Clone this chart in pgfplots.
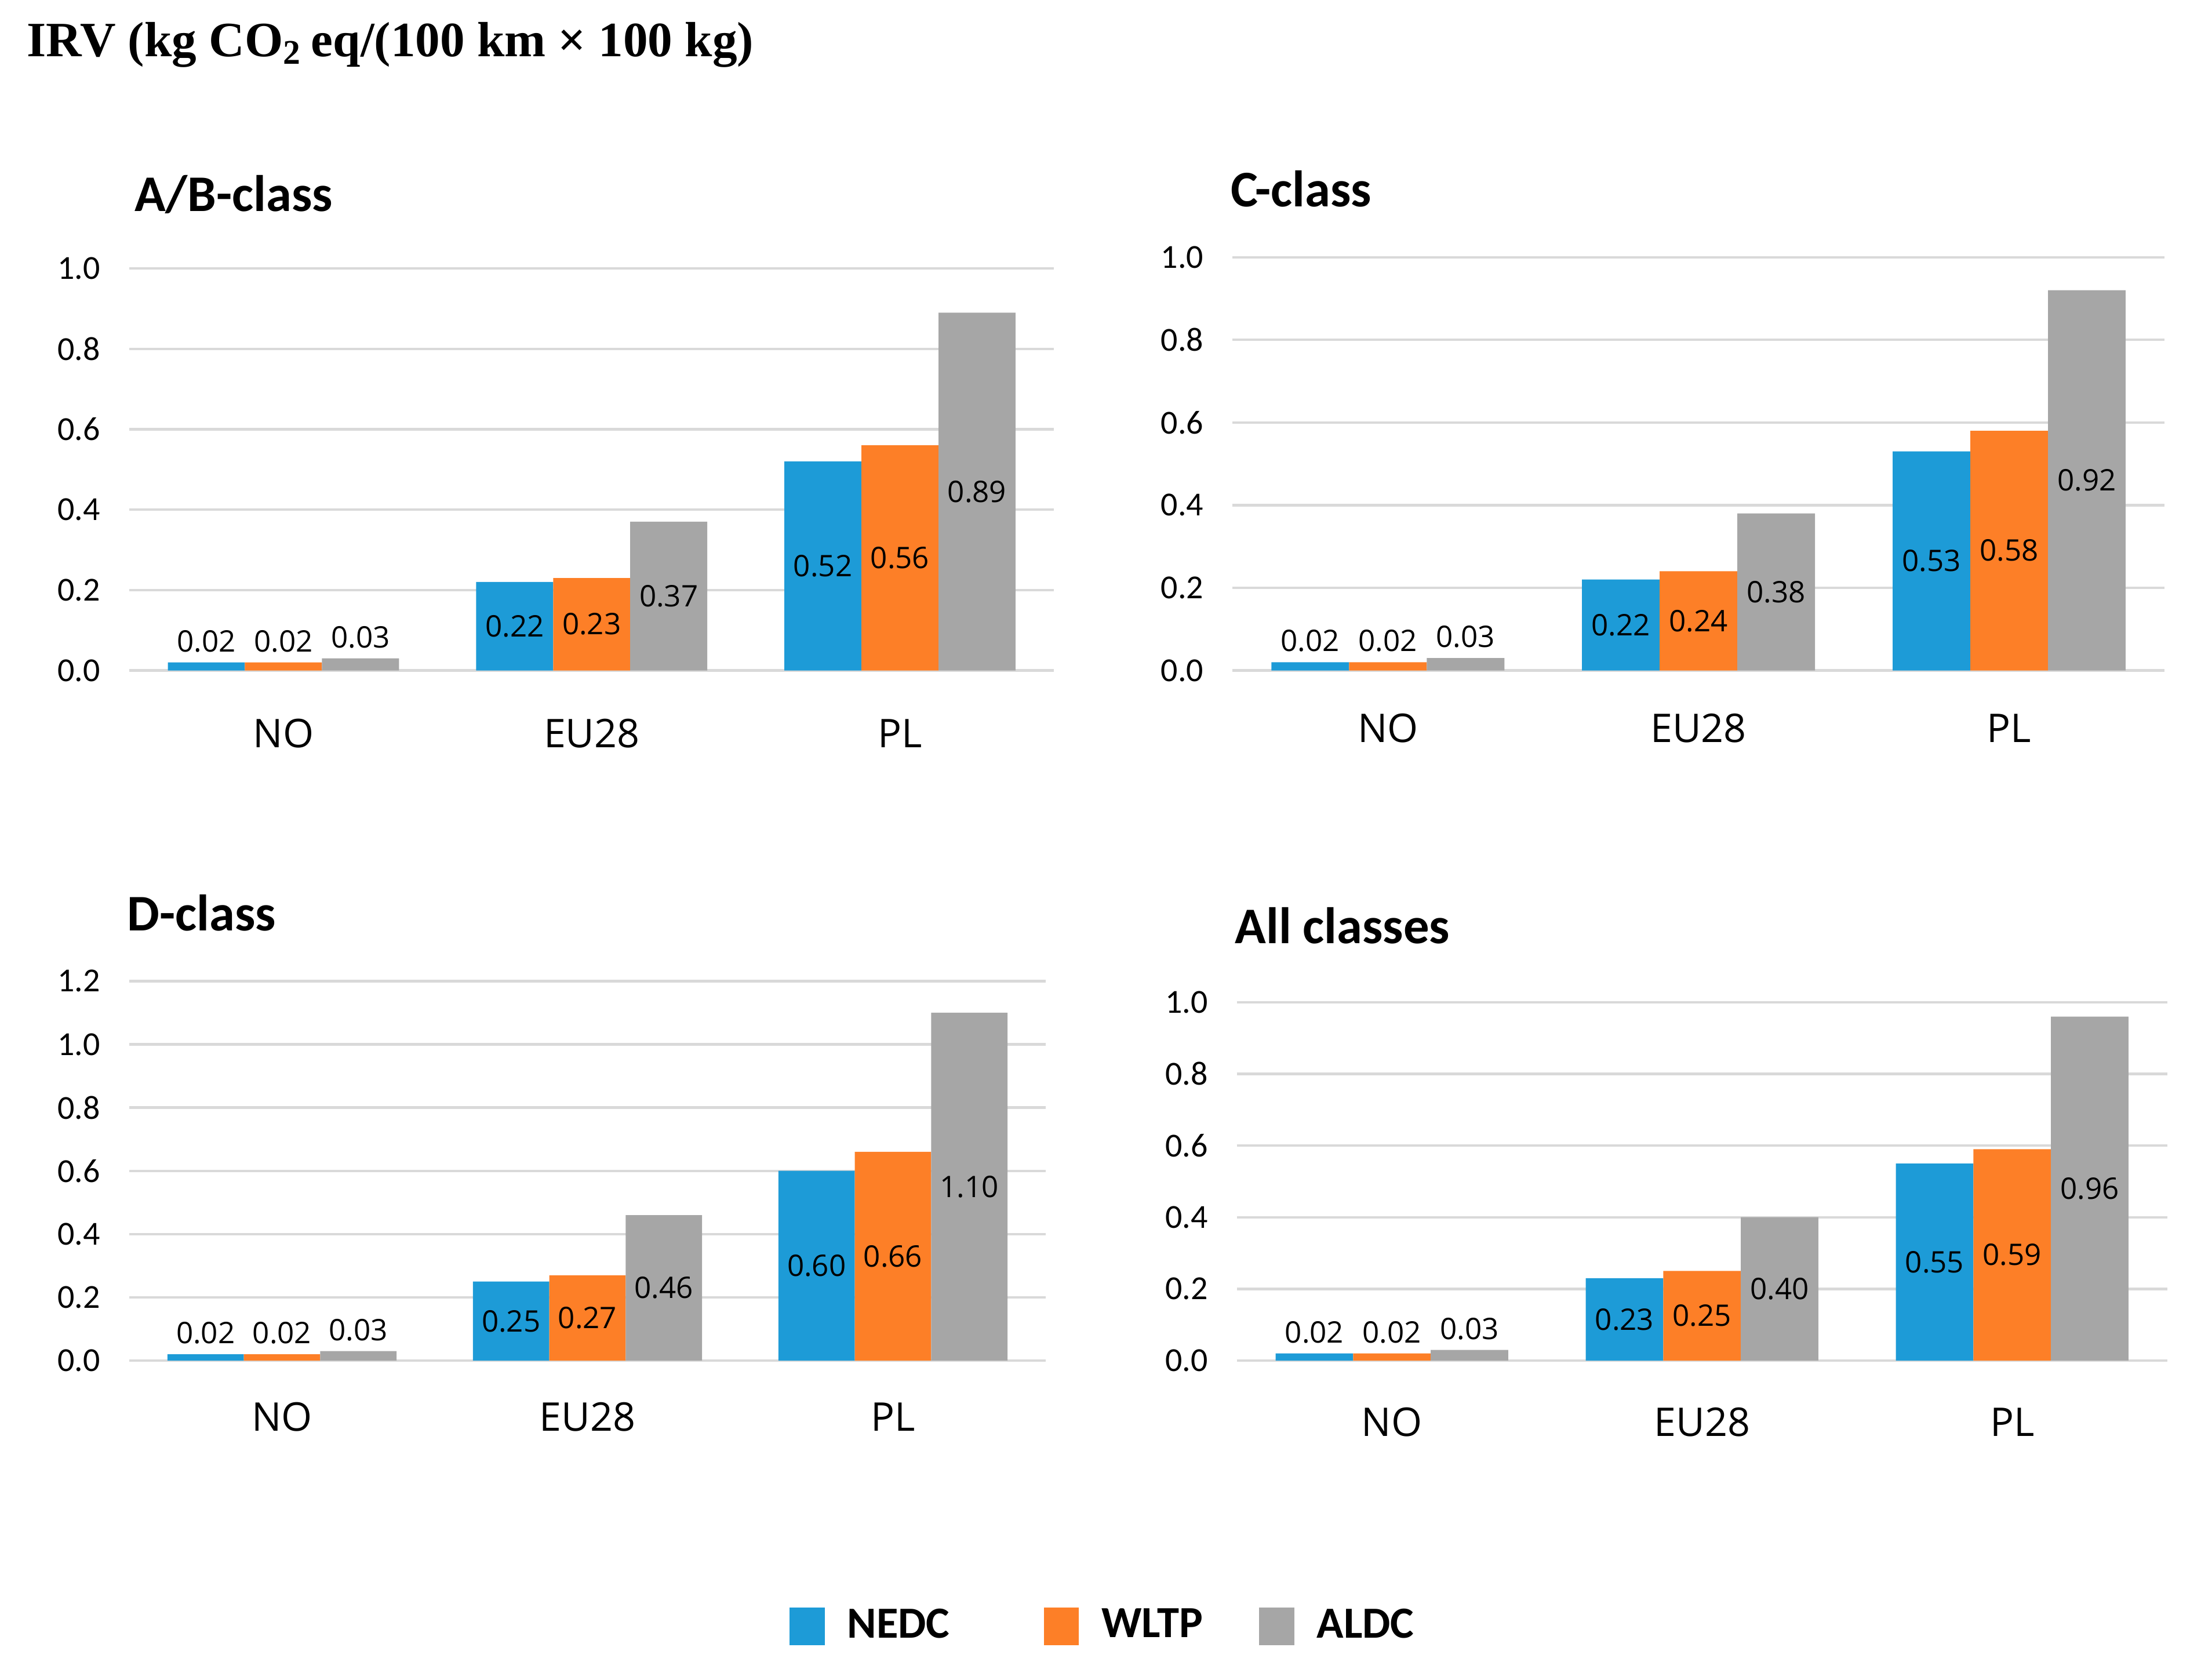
\documentclass[border=0pt]{standalone}
\usepackage{pgfplots}
\pgfplotsset{compat=1.18}
\usepackage{fontspec}
\setmainfont{Carlito}
\newfontfamily\opensans{Open Sans}
\newfontfamily\headserif{Liberation Serif}

\definecolor{nedc}{RGB}{29,155,215}
\definecolor{wltp}{RGB}{253,127,39}
\definecolor{aldc}{RGB}{166,166,166}
\definecolor{gridgray}{RGB}{217,217,217}

\pgfplotsset{
  irv/.style={
    scale only axis,
    clip=false,
    ymin=0,
    xmin=-0.5, xmax=2.5,
    xtick={0,1,2},
    xticklabels={NO,EU28,PL},
    axis line style={draw=none},
    major tick length=0pt,
    ymajorgrids,
    grid style={gridgray, line width=0.5pt},
    /pgf/number format/assume math mode=true,
    yticklabel style={font=\fontsize{6.8}{8}\selectfont, inner sep=0pt, xshift=-0.2cm,
      /pgf/number format/.cd, fixed, fixed zerofill, precision=1},
    xticklabel style={font=\opensans\fontsize{8}{10}\selectfont, anchor=base, inner sep=0pt},
    ybar, bar width=0.25,
    nodes near coords={\pgfmathprintnumber[fixed,fixed zerofill,precision=2]{\pgfplotspointmeta}},
    visualization depends on={rawy \as \rawy},
    nodes near coords style={font=\opensans\fontsize{6}{7}\selectfont, black, anchor=center, inner sep=0pt,
      shift={(axis direction cs:0,{\rawy<0.1 ? 0 : -\rawy/2})},
      yshift={\rawy<0.1 ? 4.3 : 0}},
  },
  nedcbar/.style={fill=nedc, draw=none, bar shift=-0.25},
  wltpbar/.style={fill=wltp, draw=none, bar shift=0},
  aldcbar/.style={fill=aldc, draw=none, bar shift=0.25},
  sq/.style={legend image code/.code={\fill[##1] (0cm,-0.13cm) rectangle (0.25cm,0.14cm);}},
}

\begin{document}
\begin{tikzpicture}
\path[use as bounding box] (0,0) rectangle (15.66,11.952);

\node[anchor=base west, inner sep=0pt] at (0.185,11.55)
  {\headserif\bfseries\fontsize{10}{12}\selectfont IRV (kg CO\textsubscript{2}\,eq/(100 km × 100 kg)};

% A/B-class
\node[anchor=base west, inner sep=0pt] at (0.95,10.45) {\bfseries\fontsize{10.4}{12}\selectfont A/B-class};
\begin{axis}[irv, at={(0.92cm,7.182cm)}, anchor=south west, width=6.58cm, height=2.86cm,
  ymax=1, ytick={0,0.2,...,1.0}, xticklabel style={yshift=-0.55cm}]
  \addplot[nedcbar] coordinates {(0,0.02) (1,0.22) (2,0.52)};
  \addplot[wltpbar] coordinates {(0,0.02) (1,0.23) (2,0.56)};
  \addplot[aldcbar] coordinates {(0,0.03) (1,0.37) (2,0.89)};
\end{axis}

% C-class
\node[anchor=base west, inner sep=0pt] at (8.75,10.48) {\bfseries\fontsize{10.4}{12}\selectfont C-class};
\begin{axis}[irv, at={(8.77cm,7.182cm)}, anchor=south west, width=6.63cm, height=2.94cm,
  ymax=1, ytick={0,0.2,...,1.0}, xticklabel style={yshift=-0.51cm}]
  \addplot[nedcbar] coordinates {(0,0.02) (1,0.22) (2,0.53)};
  \addplot[wltpbar] coordinates {(0,0.02) (1,0.24) (2,0.58)};
  \addplot[aldcbar] coordinates {(0,0.03) (1,0.38) (2,0.92)};
\end{axis}

% D-class
\node[anchor=base west, inner sep=0pt] at (0.90,5.33) {\bfseries\fontsize{10.4}{12}\selectfont D-class};
\begin{axis}[irv, at={(0.92cm,2.272cm)}, anchor=south west, width=6.52cm, height=2.70cm,
  ymax=1.2, ytick={0,0.2,...,1.2}, xticklabel style={yshift=-0.50cm},
  legend columns=3,
  legend style={at={(1.0613,-0.70)}, anchor=center, draw=none, fill=none,
    font=\bfseries\fontsize{9}{11}\selectfont, nodes={inner sep=0pt},
    /tikz/every odd column/.append style={column sep=0.16cm},
    /tikz/every even column/.append style={column sep=0.40cm}},
  legend cell align=left]
  \addplot[nedcbar, sq] coordinates {(0,0.02) (1,0.25) (2,0.60)};
  \addplot[wltpbar, sq] coordinates {(0,0.02) (1,0.27) (2,0.66)};
  \addplot[aldcbar, sq] coordinates {(0,0.03) (1,0.46) (2,1.10)};
  \legend{NEDC\kern0.27cm, WLTP, ALDC}
\end{axis}

% All classes
\node[anchor=base west, inner sep=0pt] at (8.78,5.24) {\bfseries\fontsize{10.4}{12}\selectfont All classes};
\begin{axis}[irv, at={(8.80cm,2.272cm)}, anchor=south west, width=6.62cm, height=2.55cm,
  ymax=1, ytick={0,0.2,...,1.0}, xticklabel style={yshift=-0.54cm}]
  \addplot[nedcbar] coordinates {(0,0.02) (1,0.23) (2,0.55)};
  \addplot[wltpbar] coordinates {(0,0.02) (1,0.25) (2,0.59)};
  \addplot[aldcbar] coordinates {(0,0.03) (1,0.40) (2,0.96)};
\end{axis}
\end{tikzpicture}
\end{document}
